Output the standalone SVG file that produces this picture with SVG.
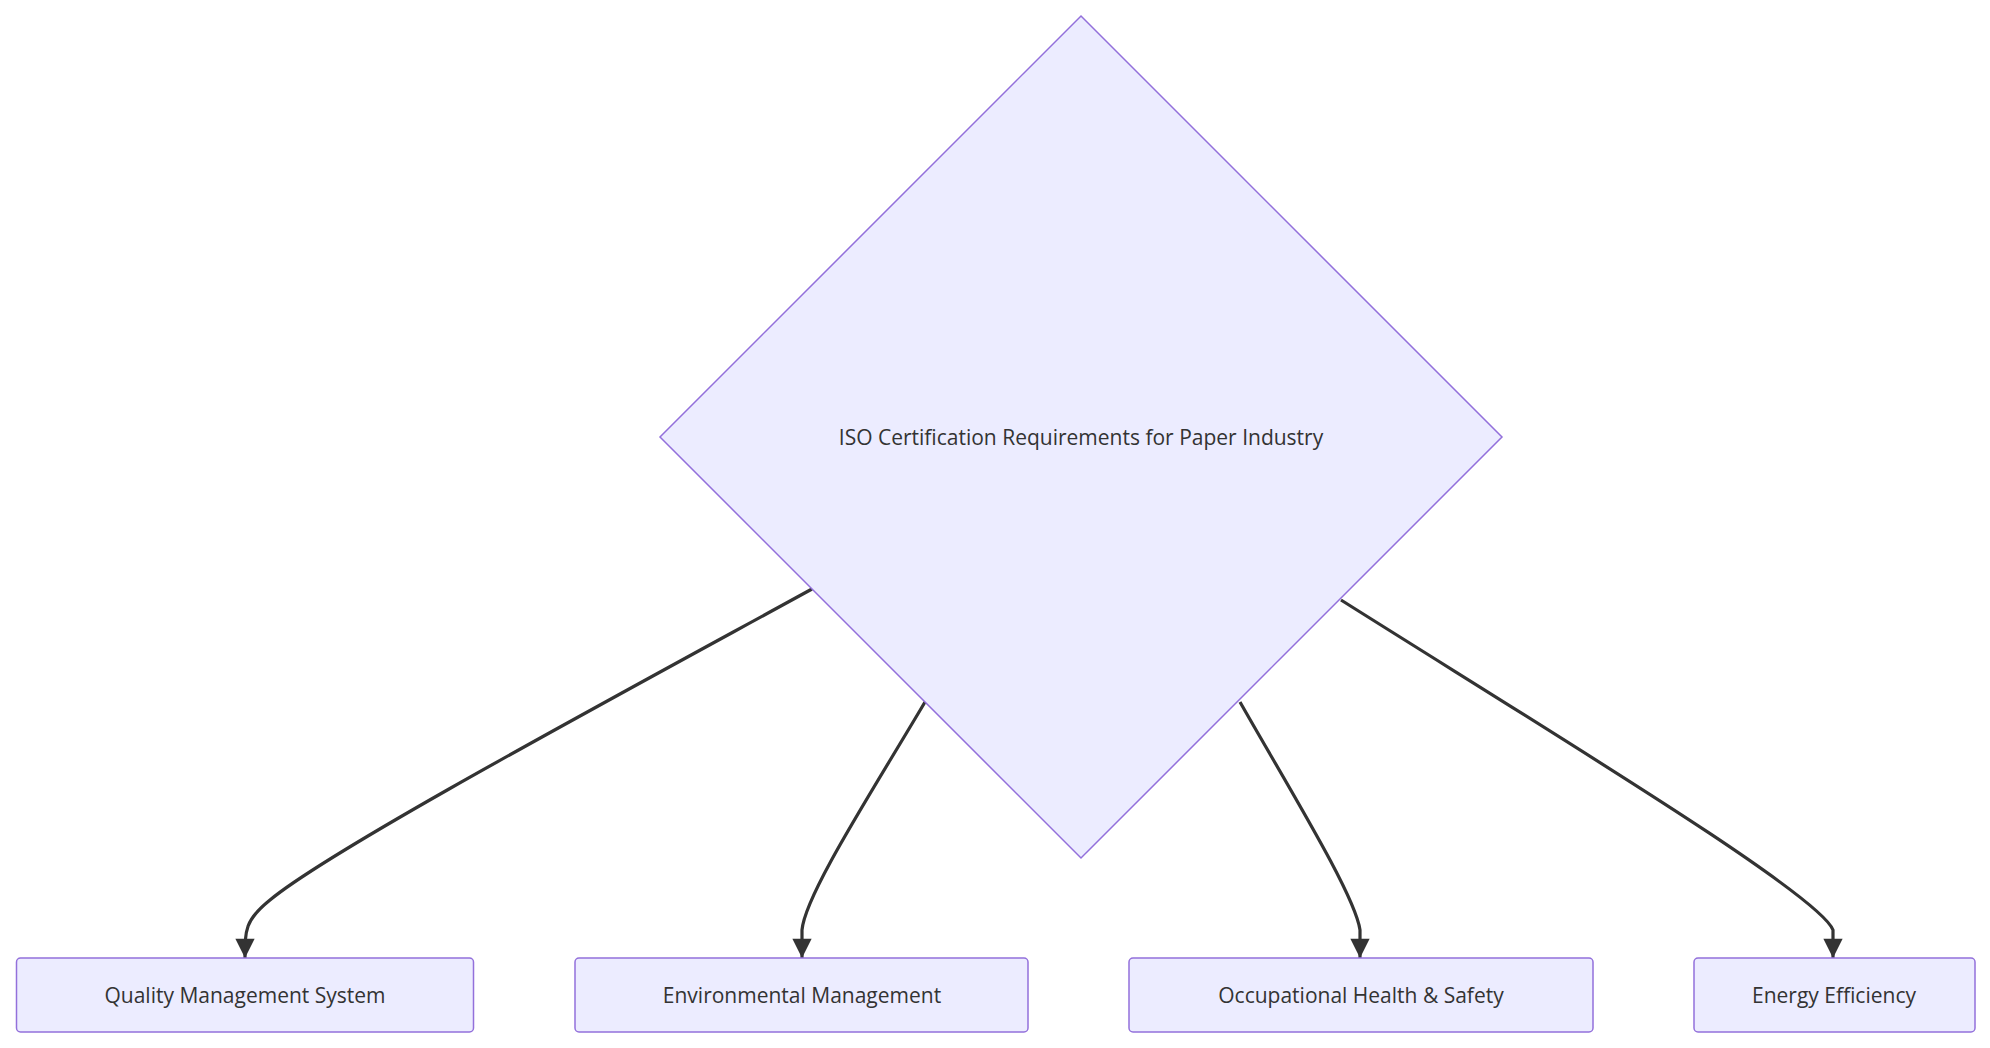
<svg xmlns="http://www.w3.org/2000/svg" width="1990" height="1048" viewBox="0 0 1990 1048">
<style>
.n{fill:#ECECFF;stroke:#9370DB;stroke-width:1.5}
.t{font-family:"Open Sans","Liberation Sans",sans-serif;font-size:21px;fill:#333;text-anchor:middle;dominant-baseline:central}
.e{fill:none;stroke:#333;stroke-width:3.2}
</style>
<defs><marker id="a" viewBox="0 0 10 10" refX="10" refY="5" markerWidth="8" markerHeight="8" markerUnits="userSpaceOnUse" orient="auto" style="overflow:visible"><path d="M0,0L10,5L0,10z" fill="#333" transform="scale(2.4)" transform-origin="10 5"/></marker></defs>
<rect width="1990" height="1048" fill="#fff"/>
<g id="connectors">
<path class="e" d="M812,589 C600,705 330,850 270,900 C245,920 245,930 245,958" marker-end="url(#a)"/>
<path class="e" d="M925,702 C870,795 805,895 802,930 L802,958" marker-end="url(#a)"/>
<path class="e" d="M1240,702 C1290,790 1355,895 1360,930 L1360,958" marker-end="url(#a)"/>
<path class="e" d="M1341,600 C1560,738 1820,895 1833,930 L1833,958" marker-end="url(#a)"/>
</g>
<g id="root"><polygon class="n" points="1081,16 1502,437 1081,858 660,437"/><text class="t" x="1081" y="437">ISO Certification Requirements for Paper Industry</text></g>
<g id="qms"><rect class="n" x="16.5" y="958" width="457" height="74" rx="4"/><text class="t" x="245" y="995">Quality Management System</text></g>
<g id="env"><rect class="n" x="575" y="958" width="453" height="74" rx="4"/><text class="t" x="802" y="995">Environmental Management</text></g>
<g id="ohs"><rect class="n" x="1129" y="958" width="464" height="74" rx="4"/><text class="t" x="1361" y="995">Occupational Health &amp; Safety</text></g>
<g id="ee"><rect class="n" x="1694" y="958" width="281" height="74" rx="4"/><text class="t" x="1834" y="995">Energy Efficiency</text></g>
</svg>
